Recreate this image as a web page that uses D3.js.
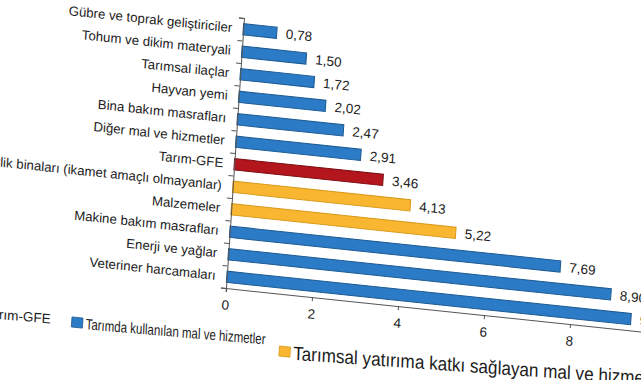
<!DOCTYPE html>
<html>
<head>
<meta charset="utf-8">
<script src="https://cdn.jsdelivr.net/npm/d3@7"></script>
<style>
  html, body { margin: 0; padding: 0; background: #fff; }
  svg { display: block; }
  text { font-family: "Liberation Sans", Arial, sans-serif; fill: #1c1c1c; }
</style>
</head>
<body>
<div id="chart"></div>
<script>
// ---------- data ----------
const categories = [
  "Gübre ve toprak geliştiriciler",
  "Tohum ve dikim materyali",
  "Tarımsal ilaçlar",
  "Hayvan yemi",
  "Bina bakım masrafları",
  "Diğer mal ve hizmetler",
  "Tarım-GFE",
  "Çiftlik binaları (ikamet amaçlı olmayanlar)",
  "Malzemeler",
  "Makine bakım masrafları",
  "Enerji ve yağlar",
  "Veteriner harcamaları"
];
const values = [0.78, 1.50, 1.72, 2.02, 2.47, 2.91, 3.46, 4.13, 5.22, 7.69, 8.90, 9.40];
const groupOf = ["used","used","used","used","used","used","gfe","invest","invest","used","used","used"];
const groupKeys = ["gfe", "used", "invest"];
const legendLabels = ["Tarım-GFE", "Tarımda kullanılan mal ve hizmetler", "Tarımsal yatırıma katkı sağlayan mal ve hizmetler"];
const xTicks = [0, 2, 4, 6, 8, 10];

// ---------- setup ----------
const W = 641, H = 380;
const plotW = 430, plotH = 270;

const color = d3.scaleOrdinal().domain(groupKeys).range(["#b3161d", "#2b7bc6", "#f8b631"]);
const stroke = d3.scaleOrdinal().domain(groupKeys).range(["#7d0d12", "#1d5a93", "#d99a1a"]);

const svg = d3.select("#chart").append("svg")
  .attr("width", W).attr("height", H)
  .style("background", "#fff");

// skewed frame (the reference picture is sheared)
const g = svg.append("g").attr("transform", "matrix(1,0.105,-0.0667,1,244,18)");

const x = d3.scaleLinear().domain([0, 10]).range([0, plotW]);
const y = d3.scaleBand().domain(categories).range([0, plotH]).paddingInner(0.5).paddingOuter(0.25);
const yEdge = d3.scaleLinear().domain([0, categories.length]).range([0, plotH]);

// bars
g.selectAll("rect.bar").data(categories).join("rect")
  .attr("class", "bar")
  .attr("x", x(0))
  .attr("y", d => y(d))
  .attr("width", (d, i) => x(values[i]) - x(0))
  .attr("height", y.bandwidth())
  .attr("fill", (d, i) => color(groupOf[i]))
  .attr("stroke", (d, i) => stroke(groupOf[i]))
  .attr("stroke-width", 1);

// value labels
g.selectAll("text.val").data(categories).join("text")
  .attr("class", "val")
  .attr("x", (d, i) => x(values[i]) + 9)
  .attr("y", d => y(d) + y.bandwidth() / 2)
  .attr("dy", "0.36em")
  .style("font-size", "13.5px")
  .text((d, i) => d3.format(".2f")(values[i]).replace(".", ","));

// y axis: edge ticks
const yAxisG = g.append("g")
  .call(d3.axisLeft(yEdge).tickValues(d3.range(0, categories.length + 1)).tickSize(5).tickFormat(""));
yAxisG.select(".domain").attr("stroke", "#555");
yAxisG.selectAll(".tick line").attr("stroke", "#555");

// category labels
const yLab = g.append("g")
  .call(d3.axisLeft(y).tickSize(0).tickPadding(11));
yLab.select(".domain").remove();
yLab.selectAll("text").style("font-size", "13.2px").style("font-family", "'Liberation Sans', Arial, sans-serif").attr("fill", "#1c1c1c");

// x axis
const xAxisG = g.append("g").attr("transform", `translate(0,${plotH})`)
  .call(d3.axisBottom(x).tickValues(xTicks).tickSize(4).tickPadding(8).tickFormat(d => d));
xAxisG.select(".domain").attr("stroke", "#555");
xAxisG.selectAll(".tick line").attr("stroke", "#555");
xAxisG.selectAll("text").style("font-size", "13.5px").style("font-family", "'Liberation Sans', Arial, sans-serif").attr("fill", "#1c1c1c");

// legend (positions in the sheared frame)
const legendPos = [
  { sx: -252, sy: 320, size: 11, fs: 13.5, scale: 1.0, rot: -1.2 },
  { sx: -151, sy: 320.3, size: 11, fs: 15, scale: 0.765, rot: -1.2 },
  { sx: 57, sy: 327.5, size: 11, fs: 19, scale: 0.9, rot: -2.0 }
];
const leg = g.append("g");
groupKeys.forEach((k, i) => {
  const p = legendPos[i];
  const it = leg.append("g").attr("transform", `translate(${p.sx},${p.sy})`);
  it.append("rect").attr("x", 0).attr("y", -p.size / 2).attr("width", p.size).attr("height", p.size - 1)
    .attr("fill", color(k)).attr("stroke", stroke(k)).attr("stroke-width", 0.8);
  it.append("text")
    .attr("transform", `translate(${p.size + 3},0) rotate(${p.rot}) scale(${p.scale},1)`)
    .attr("dy", "0.36em")
    .style("font-size", p.fs + "px")
    .text(legendLabels[i]);
});
</script>
</body>
</html>
